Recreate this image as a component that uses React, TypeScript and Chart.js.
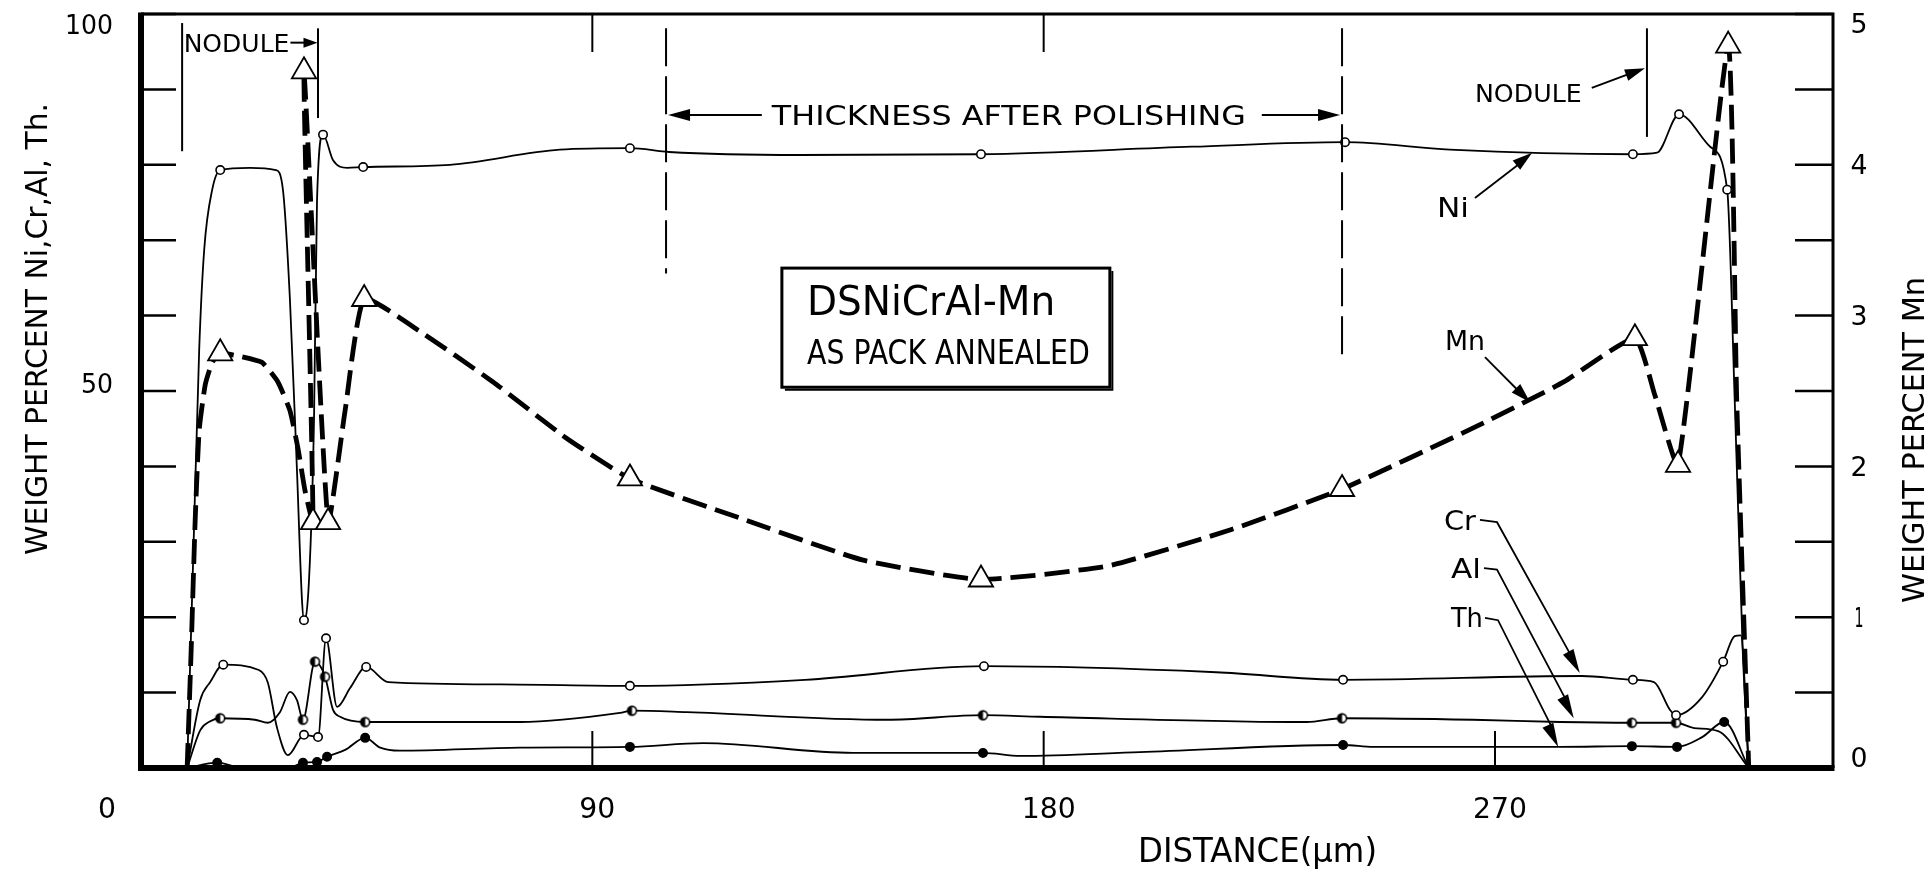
import { useEffect, useRef } from "react";
import { Chart, registerables } from "chart.js";

Chart.register(...registerables);

// Microprobe traverse across the coating: distance (µm) against weight percent.
// Ni, Cr, Al and Th read on the left axis, Mn on the right axis.
const niTrace: [number, number][] = [
  [9.2, 0], [10.4, 27.6], [11.6, 55.4], [12.6, 68.7], [14.2, 76.7], [15.8, 79.3],
  [21.7, 79.6], [26.9, 79.3], [28.3, 76.7], [29.7, 62.1], [31.1, 39.5], [32.1, 22.3],
  [32.5, 19.6], [33.5, 24.9], [34.5, 46.2], [35.1, 75.3], [36.3, 84.0], [38.3, 80.6],
  [41.1, 79.6], [44.3, 79.7], [61.6, 80.0], [83.5, 82.0], [97.5, 82.2], [105.3, 81.7],
  [131.4, 81.3], [167.5, 81.4], [209.6, 82.4], [240.1, 83.0], [261.0, 82.0], [297.5, 81.4],
  [302.3, 81.6], [306.7, 86.7], [312.9, 82.4], [316.3, 76.7], [317.8, 48.8], [319.4, 15.6],
  [320.6, 0],
];
const niMarks = [5, 12, 16, 19, 22, 25, 27, 29, 31, 33];

const crTrace: [number, number][] = [
  [9.2, 0], [11.8, 9.0], [13.8, 11.4], [16.4, 13.7], [23.5, 13.0], [25.3, 11.3],
  [27.1, 5.4], [29.3, 1.7], [32.5, 4.4], [35.3, 4.1], [36.9, 17.2], [39.1, 8.1],
  [41.7, 10.6], [44.9, 13.4], [49.3, 11.4], [71.6, 11.1], [97.5, 10.9], [132.4, 11.7],
  [168.1, 13.5], [214.4, 12.7], [239.7, 11.7], [287.3, 12.2], [297.5, 11.7], [301.7, 11.4],
  [304.9, 7.7], [306.1, 7.0], [311.3, 9.4], [315.5, 14.1], [317.8, 17.5], [319.0, 17.6],
  [320.6, 0],
];
const crMarks = [3, 8, 9, 10, 13, 16, 18, 20, 22, 25, 27];

const alTrace: [number, number][] = [
  [9.2, 0], [11.8, 5.0], [13.8, 6.2], [15.8, 6.6], [22.7, 6.4], [25.3, 6.0],
  [27.7, 7.4], [29.7, 10.1], [31.1, 9.0], [32.3, 6.4], [34.7, 14.1], [36.7, 12.1],
  [38.3, 7.7], [39.7, 6.8], [44.7, 6.1], [75.6, 6.1], [95.5, 7.3], [97.9, 7.6],
  [108.9, 7.4], [148.8, 6.4], [167.9, 7.0], [179.3, 6.8], [232.5, 6.1], [239.5, 6.6],
  [265.6, 6.4], [283.0, 6.1], [297.3, 6.0], [306.1, 6.0], [309.7, 5.3], [314.5, 4.9],
  [320.6, 0],
];
const alMarks = [3, 9, 10, 11, 14, 17, 20, 23, 26, 27];

const thTrace: [number, number][] = [
  [9.2, 0], [15.2, 0.7], [19.7, 0.1], [29.7, 0.1], [32.3, 0.7], [35.1, 0.8],
  [37.1, 1.5], [40.7, 2.4], [44.7, 4.0], [47.7, 2.7], [51.6, 2.3], [75.6, 2.7],
  [97.5, 2.8], [112.1, 3.3], [142.0, 2.0], [167.9, 2.0], [175.3, 1.6], [199.2, 2.1],
  [239.7, 3.05], [245.7, 2.8], [283.0, 2.8], [297.3, 2.9], [306.3, 2.8], [311.3, 4.1],
  [315.7, 6.1], [320.6, 0],
];
const thMarks = [1, 4, 5, 6, 8, 12, 15, 18, 21, 22, 24];

// Mn, weight percent on the right-hand axis
const mnTrace: [number, number][] = [
  [9.2, 0], [10.0, 0.78], [10.8, 1.64], [11.6, 2.24], [12.8, 2.54], [14.2, 2.69],
  [15.8, 2.75], [19.7, 2.73], [24.1, 2.69], [27.3, 2.56], [29.7, 2.37], [31.3, 2.12],
  [32.7, 1.84], [34.3, 1.63], [32.5, 4.62], [37.3, 1.63], [40.7, 2.37], [44.5, 3.11],
  [55.4, 2.9], [70.2, 2.56], [84.7, 2.19], [97.5, 1.92], [119.2, 1.66], [143.8, 1.38],
  [167.5, 1.25], [192.8, 1.34], [217.3, 1.58], [239.5, 1.85], [266.6, 2.27], [283.7, 2.56],
  [297.9, 2.85], [301.9, 2.47], [306.5, 2.01], [316.5, 4.79], [318.2, 2.44], [320.6, 0],
];
const mnMarks = [6, 13, 14, 15, 17, 21, 24, 27, 30, 32, 33];

const distanceTicks = [0, 90, 180, 270];
const distanceTopTicks = [90, 180];
const leftTicks = [0, 10, 20, 30, 40, 50, 60, 70, 80, 90, 100];
const leftLabels = [50, 100];
const rightTicks = [0, 0.5, 1, 1.5, 2, 2.5, 3, 3.5, 4, 4.5, 5];
const rightLabels = [0, 1, 2, 3, 4, 5];

const X_MAX = 337.4;
const FONT = '"DejaVu Sans", "Liberation Sans", sans-serif';

function halfDot(r: number): HTMLCanvasElement {
  const c = document.createElement("canvas");
  const s = Math.ceil(r * 2 + 4);
  c.width = s;
  c.height = s;
  const g = c.getContext("2d")!;
  const m = s / 2;
  g.beginPath();
  g.arc(m, m, r, 0, Math.PI * 2);
  g.fillStyle = "#fff";
  g.fill();
  g.beginPath();
  g.moveTo(m, m - r);
  g.arc(m, m, r, -Math.PI / 2, Math.PI / 2, true);
  g.closePath();
  g.fillStyle = "#000";
  g.fill();
  g.beginPath();
  g.arc(m, m, r, 0, Math.PI * 2);
  g.lineWidth = 1.6;
  g.strokeStyle = "#000";
  g.stroke();
  return c;
}

// text squeezed to a given width, positioned by the middle of its capitals
function fitText(
  ctx: CanvasRenderingContext2D,
  text: string,
  x: number,
  capMid: number,
  w: number,
  capH: number,
  align: "left" | "center" | "right" = "left"
) {
  const size = capH / 0.73;
  ctx.font = `${size}px ${FONT}`;
  const m = ctx.measureText(text).width;
  const left = align === "left" ? x : align === "center" ? x - w / 2 : x - w;
  ctx.save();
  ctx.translate(left, capMid + capH / 2);
  ctx.scale(w / m, 1);
  ctx.textAlign = "left";
  ctx.textBaseline = "alphabetic";
  ctx.fillStyle = "#000";
  ctx.fillText(text, 0, 0);
  ctx.restore();
}

function arrowHead(
  ctx: CanvasRenderingContext2D,
  fx: number,
  fy: number,
  tx: number,
  ty: number,
  len = 20,
  half = 5.5
) {
  const a = Math.atan2(ty - fy, tx - fx);
  ctx.beginPath();
  ctx.moveTo(tx, ty);
  ctx.lineTo(tx - len * Math.cos(a) + half * Math.sin(a), ty - len * Math.sin(a) - half * Math.cos(a));
  ctx.lineTo(tx - len * Math.cos(a) - half * Math.sin(a), ty - len * Math.sin(a) + half * Math.cos(a));
  ctx.closePath();
  ctx.fill();
}

function polyline(ctx: CanvasRenderingContext2D, pts: [number, number][]) {
  ctx.beginPath();
  pts.forEach(([a, b], i) => (i ? ctx.lineTo(a, b) : ctx.moveTo(a, b)));
  ctx.stroke();
}

const frameAndNotes = {
  id: "frameAndNotes",
  afterDraw(chart: any) {
    const ctx: CanvasRenderingContext2D = chart.ctx;
    const { left, right, top, bottom } = chart.chartArea;
    const sx = chart.scales.x;
    const sy = chart.scales.y;
    const sy2 = chart.scales.y2;
    const X = (v: number) => sx.getPixelForValue(v);
    const Y = (v: number) => sy.getPixelForValue(v);
    const P = (a: number, b: number): [number, number] => [X(a), Y(b)];

    ctx.save();
    ctx.strokeStyle = "#000";
    ctx.fillStyle = "#000";
    ctx.lineCap = "butt";

    // frame: heavy left and bottom, light top and right
    ctx.lineWidth = 3;
    ctx.beginPath();
    ctx.moveTo(left, top);
    ctx.lineTo(right, top);
    ctx.lineTo(right, bottom);
    ctx.stroke();
    ctx.lineWidth = 6;
    ctx.beginPath();
    ctx.moveTo(left, top - 1.5);
    ctx.lineTo(left, bottom);
    ctx.lineTo(right + 1.5, bottom);
    ctx.stroke();

    // inward ticks
    ctx.lineWidth = 2.5;
    leftTicks.forEach((v) => {
      const y = Y(v);
      ctx.beginPath();
      ctx.moveTo(left, y);
      ctx.lineTo(left + 35, y);
      ctx.stroke();
    });
    rightTicks.forEach((v) => {
      const y = sy2.getPixelForValue(v);
      ctx.beginPath();
      ctx.moveTo(right, y);
      ctx.lineTo(right - 38, y);
      ctx.stroke();
    });
    ctx.lineWidth = 2;
    distanceTicks.slice(1).forEach((v) => {
      ctx.beginPath();
      ctx.moveTo(X(v), bottom);
      ctx.lineTo(X(v), bottom - 37);
      ctx.stroke();
    });
    distanceTopTicks.forEach((v) => {
      ctx.beginPath();
      ctx.moveTo(X(v), top);
      ctx.lineTo(X(v), top + 38);
      ctx.stroke();
    });

    // tick labels
    distanceTicks.forEach((v) => {
      const t = String(v);
      const cx = v === 0 ? left - 34 : X(v) + 5;
      fitText(ctx, t, cx, bottom + 39, t.length * 18, 21, "center");
    });
    leftLabels.forEach((v) => {
      const t = String(v);
      const cy = Math.max(Y(v) - 8, top + 10);
      fitText(ctx, t, left - 28, cy, t.length * 16, 19, "right");
    });
    rightLabels.forEach((v) => {
      const t = String(v);
      const cy = Math.min(Math.max(sy2.getPixelForValue(v), top + 9), bottom - 11);
      fitText(ctx, t, right + 26, cy, v === 1 ? 9 : 17, 19, "center");
    });

    // axis titles
    fitText(ctx, "DISTANCE(\u03bcm)", 1138, 850, 239, 24, "left");
    ctx.save();
    ctx.translate(36, 329);
    ctx.rotate(-Math.PI / 2);
    fitText(ctx, "WEIGHT PERCENT Ni,Cr,Al, Th.", 0, 0, 452, 22, "center");
    ctx.restore();
    ctx.save();
    ctx.translate(1913, 440);
    ctx.rotate(-Math.PI / 2);
    fitText(ctx, "WEIGHT PERCENT Mn", 0, 0, 326, 22, "center");
    ctx.restore();

    // nodule on the left
    ctx.lineWidth = 2;
    polyline(ctx, [P(8.2, 98.8), P(8.2, 81.8)]);
    polyline(ctx, [P(35.3, 98.1), P(35.3, 86.2)]);
    fitText(ctx, "NODULE", X(8.5), Y(96.2), X(29.6) - X(8.5), 18, "left");
    polyline(ctx, [P(29.8, 96.2), P(33.5, 96.2)]);
    arrowHead(ctx, X(29.8), Y(96.2), X(35.2), Y(96.2), 14, 5);

    // nodule on the right
    polyline(ctx, [P(300.3, 98.1), P(300.3, 83.7)]);
    fitText(ctx, "NODULE", X(266.0), Y(89.5), X(287.3) - X(266.0), 18, "left");
    polyline(ctx, [P(289.3, 90.2), P(296.5, 92.0)]);
    arrowHead(ctx, X(289.3), Y(90.2), X(299.9), Y(92.8), 20, 6);

    // polished thickness
    ctx.lineWidth = 2;
    ctx.setLineDash([38, 10]);
    polyline(ctx, [P(104.7, 98.1), P(104.7, 65.6)]);
    polyline(ctx, [P(239.5, 98.1), P(239.5, 54.1)]);
    ctx.setLineDash([]);
    polyline(ctx, [P(108.5, 86.6), P(123.8, 86.6)]);
    arrowHead(ctx, X(123.8), Y(86.6), X(105.1), Y(86.6), 22, 6);
    fitText(ctx, "THICKNESS AFTER POLISHING", X(125.8), Y(86.6), X(220.3) - X(125.8), 19, "left");
    polyline(ctx, [P(223.5, 86.6), P(235.0, 86.6)]);
    arrowHead(ctx, X(223.5), Y(86.6), X(239.1), Y(86.6), 22, 6);

    // specimen box
    const bx = X(127.8);
    const by = Y(66.3);
    const bw = X(193.2) - bx;
    const bh = Y(50.5) - by;
    ctx.fillStyle = "#fff";
    ctx.fillRect(bx, by, bw, bh);
    ctx.fillStyle = "#000";
    ctx.lineWidth = 3;
    ctx.strokeRect(bx, by, bw, bh);
    ctx.lineWidth = 2;
    polyline(ctx, [[bx + 3, by + bh + 2.5], [bx + bw + 2.5, by + bh + 2.5], [bx + bw + 2.5, by + 3]]);
    fitText(ctx, "DSNiCrAl-Mn", X(132.8), Y(62.1), X(182.3) - X(132.8), 30, "left");
    fitText(ctx, "AS PACK ANNEALED", X(132.8), Y(55.2), X(189.2) - X(132.8), 24, "left");

    // curve labels
    ctx.lineWidth = 1.8;
    fitText(ctx, "Ni", X(261.6), Y(74.4), 32, 20, "center");
    polyline(ctx, [P(266.0, 75.6), P(275.0, 80.2)]);
    arrowHead(ctx, X(266.0), Y(75.6), X(277.4), Y(81.6), 20, 6);

    fitText(ctx, "Mn", X(264.0), Y(56.8), 40, 20, "center");
    polyline(ctx, [P(268.0, 54.5), P(275.0, 49.8)]);
    arrowHead(ctx, X(268.0), Y(54.5), X(277.0), Y(48.5), 20, 6);

    fitText(ctx, "Cr", X(263.0), Y(32.9), 32, 20, "center");
    polyline(ctx, [P(267.0, 32.9), P(270.4, 32.6), P(285.5, 14.5)]);
    arrowHead(ctx, X(270.4), Y(32.6), X(286.9), Y(12.6), 24, 6);

    fitText(ctx, "Al", X(264.2), Y(26.5), 30, 20, "center");
    polyline(ctx, [P(267.8, 26.5), P(270.4, 26.3), P(284.5, 8.6)]);
    arrowHead(ctx, X(270.4), Y(26.3), X(285.7), Y(6.6), 24, 6);

    fitText(ctx, "Th", X(264.4), Y(20.0), 32, 20, "center");
    polyline(ctx, [P(268.0, 19.9), P(270.6, 19.6), P(281.8, 4.8)]);
    arrowHead(ctx, X(270.6), Y(19.6), X(282.6), Y(2.8), 24, 6);

    ctx.restore();
  },
};

type Style = "open" | "filled" | "half" | "triangle";

function traceDataset(
  label: string,
  trace: [number, number][],
  marks: number[],
  style: Style,
  axis: "y" | "y2",
  half: HTMLCanvasElement
) {
  const isMn = style === "triangle";
  return {
    label,
    data: trace.map(([x, y]) => ({ x, y })),
    yAxisID: axis,
    borderColor: "#000",
    borderWidth: isMn ? 4.8 : 1.8,
    borderDash: isMn ? [25, 9] : [],
    borderCapStyle: "butt" as const,
    borderJoinStyle: "round" as const,
    tension: isMn ? 0.15 : 0,
    cubicInterpolationMode: isMn ? ("default" as const) : ("monotone" as const),
    fill: false,
    pointStyle: style === "triangle" ? "triangle" : style === "half" ? half : "circle",
    pointRadius: (c: any) => (marks.includes(c.dataIndex) ? (isMn ? 14 : 4.2) : 0),
    pointBackgroundColor: style === "filled" ? "#000" : "#fff",
    pointBorderColor: "#000",
    pointBorderWidth: isMn ? 1.8 : 1.6,
  };
}

export default function App() {
  const ref = useRef<HTMLCanvasElement | null>(null);

  useEffect(() => {
    if (!ref.current) return;
    const half = halfDot(4.4);
    const chart = new Chart(ref.current, {
      type: "line",
      data: {
        datasets: [
          traceDataset("Mn", mnTrace, mnMarks, "triangle", "y2", half),
          traceDataset("Ni", niTrace, niMarks, "open", "y", half),
          traceDataset("Cr", crTrace, crMarks, "open", "y", half),
          traceDataset("Al", alTrace, alMarks, "half", "y", half),
          traceDataset("Th", thTrace, thMarks, "filled", "y", half),
        ] as any,
      },
      options: {
        animation: false,
        responsive: true,
        maintainAspectRatio: false,
        devicePixelRatio: 1,
        events: [],
        layout: { padding: { left: 141, right: 98, top: 14, bottom: 120 } },
        plugins: { legend: { display: false }, tooltip: { enabled: false } },
        scales: {
          x: { type: "linear", min: 0, max: X_MAX, display: false },
          y: { type: "linear", min: 0, max: 100, display: false },
          y2: { type: "linear", min: 0, max: 5, display: false, position: "right" },
        },
      },
      plugins: [frameAndNotes],
    });
    return () => chart.destroy();
  }, []);

  return (
    <div
      style={{
        position: "absolute",
        left: 0,
        top: 0,
        width: 1931,
        height: 888,
        background: "#fff",
      }}
    >
      <canvas ref={ref} />
    </div>
  );
}
